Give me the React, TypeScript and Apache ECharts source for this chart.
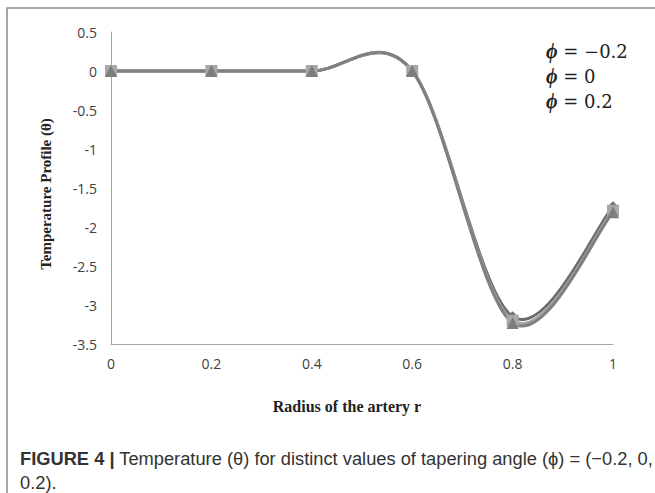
import React, { useEffect, useRef } from "react";
import * as echarts from "echarts";

const radius = [0, 0.2, 0.4, 0.6, 0.8, 1];
const phiNeg02 = [0, 0, 0, 0, -3.15, -1.74];
const phi0 = [0, 0, 0, 0, -3.2, -1.79];
const phi02 = [0, 0, 0, 0, -3.23, -1.81];
const legendLabels = ["−0.2", "0", "0.2"];
const yTitle = "Temperature Profile (θ)";
const xTitle = "Radius of the artery r";

const toPairs = (vals: number[]) => radius.map((r, i) => [r, vals[i]]);

// Excel-like smoothed curve (Catmull-Rom Bezier in pixel space), drawn through the axis scales
function smoothRenderer(vals: number[], color: string) {
  return (params: any, api: any) => {
    if (params.dataIndex !== 0) return null;
    const pts = radius.map((r, i) => api.coord([r, vals[i]]));
    const n = pts.length;
    const P = (i: number) => pts[Math.max(0, Math.min(n - 1, i))];
    let d = `M${pts[0][0]},${pts[0][1]}`;
    const k = 1 / 6;
    for (let i = 0; i < n - 1; i++) {
      const p0 = P(i - 1), p1 = P(i), p2 = P(i + 1), p3 = P(i + 2);
      const c1x = p1[0] + (p2[0] - p0[0]) * k;
      const c1y = p1[1] + (p2[1] - p0[1]) * k;
      const c2x = p2[0] - (p3[0] - p1[0]) * k;
      const c2y = p2[1] - (p3[1] - p1[1]) * k;
      d += ` C${c1x},${c1y} ${c2x},${c2y} ${p2[0]},${p2[1]}`;
    }
    return {
      type: "path",
      shape: { pathData: d },
      style: { stroke: color, lineWidth: 3, fill: "none", lineJoin: "round", lineCap: "round" },
    };
  };
}

export default function App() {
  const ref = useRef<HTMLDivElement>(null);
  useEffect(() => {
    if (!ref.current) return;
    const chart = echarts.init(ref.current, null, { renderer: "svg" });
    const lines = [
      { name: "phi=-0.2", vals: phiNeg02, color: "#6b6b6b", symbol: "diamond", mcolor: "#6b6b6b", size: 11 },
      { name: "phi=0", vals: phi0, color: "#a5a5a5", symbol: "rect", mcolor: "#a8a8a8", size: 12 },
      { name: "phi=0.2", vals: phi02, color: "#808080", symbol: "triangle", mcolor: "#7d7d7d", size: 12 },
    ];
    const labelFont = {
      color: "#404040",
      fontSize: 14,
      fontFamily: "Open Sans, Liberation Sans, sans-serif",
    };
    chart.setOption({
      animation: false,
      backgroundColor: "#ffffff",
      grid: { left: 111, top: 32, width: 502, height: 312 },
      xAxis: {
        type: "value",
        min: 0,
        max: 1,
        interval: 0.2,
        axisLine: { show: true, onZero: false, lineStyle: { color: "#a6a6a6", width: 1 } },
        axisTick: { show: false },
        splitLine: { show: false },
        axisLabel: { margin: 12, ...labelFont },
      },
      yAxis: {
        type: "value",
        min: -3.5,
        max: 0.5,
        interval: 0.5,
        axisLine: { show: true, onZero: false, lineStyle: { color: "#a6a6a6", width: 1 } },
        axisTick: { show: false },
        splitLine: { show: false },
        axisLabel: { margin: 14, ...labelFont },
      },
      series: [
        ...lines.map((l, i) => ({
          type: "custom",
          name: l.name,
          data: toPairs(l.vals),
          renderItem: smoothRenderer(l.vals, l.color),
          clip: false,
          z: 2 + i * 0.1,
        })),
        ...lines.map((l, i) => ({
          type: "scatter",
          name: l.name + " markers",
          data: toPairs(l.vals),
          symbol: l.symbol,
          symbolSize: l.size,
          itemStyle: { color: l.mcolor, opacity: 1 },
          z: 4 + i,
        })),
      ],
      graphic: [
        {
          type: "rect",
          shape: { x: 7, y: 8, width: 700, height: 520 },
          style: { fill: "none", stroke: "#8a8a8a", lineWidth: 1.5 },
          silent: true,
        },
        {
          type: "text",
          x: 46,
          y: 194,
          rotation: Math.PI / 2,
          style: {
            text: yTitle,
            fontFamily: "Liberation Serif, Times New Roman, serif",
            fontWeight: "bold",
            fontSize: 15,
            fill: "#222",
            align: "center",
            verticalAlign: "middle",
          },
        },
        {
          type: "text",
          x: 347,
          y: 406,
          style: {
            text: xTitle,
            fontFamily: "Liberation Serif, Times New Roman, serif",
            fontWeight: "bold",
            fontSize: 16,
            fill: "#222",
            align: "center",
            verticalAlign: "middle",
          },
        },
        ...legendLabels.map((lab, i) => ({
          type: "text",
          x: 546,
          y: [51, 76, 101][i],
          style: {
            text: "{p|ϕ} = " + lab,
            fontFamily: "DejaVu Serif, Liberation Serif, serif",
            fontSize: 18,
            fill: "#222",
            verticalAlign: "middle",
            rich: {
              p: {
                fontFamily: "Liberation Serif, DejaVu Serif, serif",
                fontStyle: "italic",
                fontWeight: "bold",
                fontSize: 20,
                fill: "#222",
              },
            },
          },
        })),
        {
          type: "text",
          x: 20,
          y: 458,
          style: {
            text: "{b|FIGURE 4 |} Temperature (θ) for distinct values of tapering angle (ϕ) = (−0.2, 0,",
            fontFamily: "Liberation Sans Narrow, Liberation Sans, Arial, sans-serif",
            fontSize: 18.3,
            fill: "#333",
            verticalAlign: "middle",
            rich: {
              b: {
                fontFamily: "Liberation Sans Narrow, Liberation Sans, Arial, sans-serif",
                fontWeight: "bold",
                fontSize: 18.3,
                fill: "#333",
              },
            },
          },
        },
        {
          type: "text",
          x: 20,
          y: 482,
          style: {
            text: "0.2).",
            fontFamily: "Liberation Sans Narrow, Liberation Sans, Arial, sans-serif",
            fontSize: 18.3,
            fill: "#333",
            verticalAlign: "middle",
          },
        },
      ],
    });
    return () => chart.dispose();
  }, []);
  return (
    <div
      ref={ref}
      style={{ position: "fixed", left: 0, top: 0, width: 655, height: 493 }}
    />
  );
}
